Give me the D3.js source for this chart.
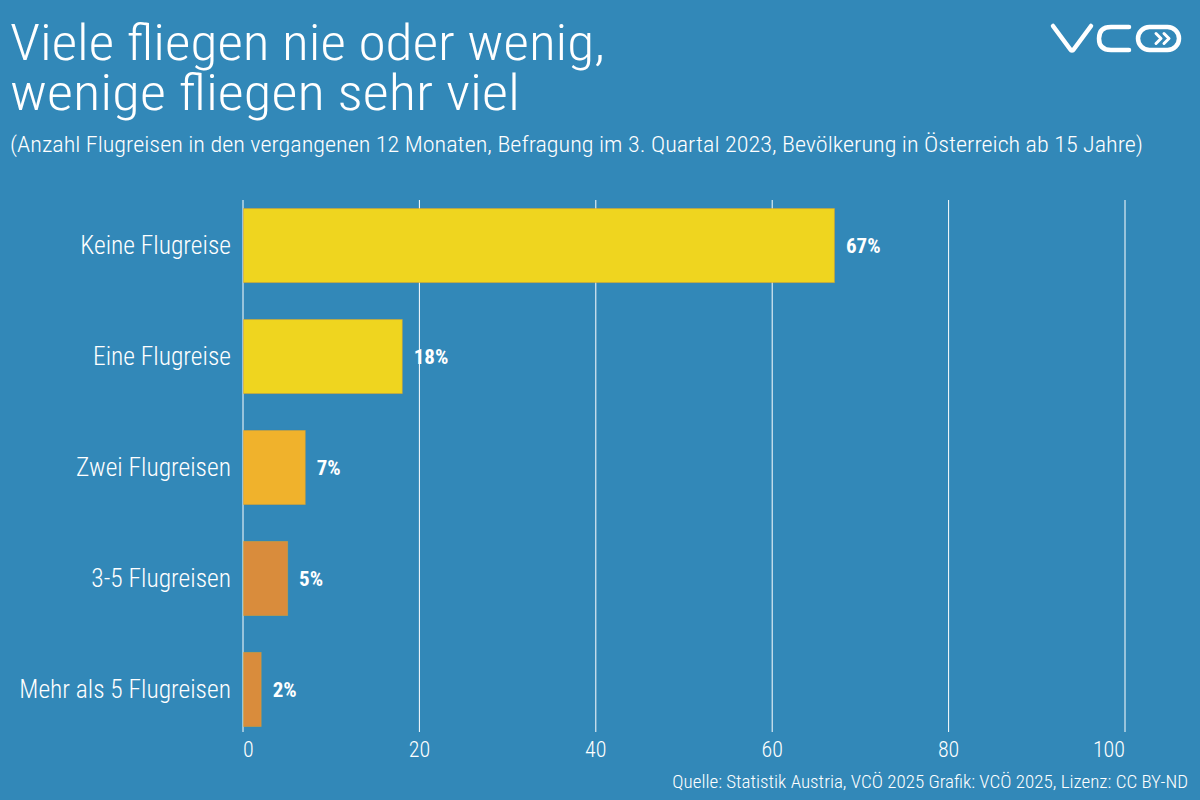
<!DOCTYPE html>
<html>
<head>
<meta charset="utf-8">
<script src="https://cdn.jsdelivr.net/npm/d3@7"></script>
<style>
  body { margin: 0; background: #3288b8; }
  svg text { font-family: "Roboto Condensed", "Liberation Sans Narrow", "DejaVu Sans Condensed", "Liberation Sans", sans-serif; fill: #fff; font-weight: 300; }
</style>
</head>
<body>
<div id="chart"></div>
<script>
// data
var categories = ['Keine Flugreise', 'Eine Flugreise', 'Zwei Flugreisen', '3-5 Flugreisen', 'Mehr als 5 Flugreisen'];
var values = [67, 18, 7, 5, 2];
var barColors = ['#efd51f', '#efd51f', '#f0b22c', '#d98c3c', '#d98c3c'];
var xTicks = [0, 20, 40, 60, 80, 100];

var width = 1200, height = 800;

var svg = d3.select('#chart')
  .append('svg')
    .attr('width', width)
    .attr('height', height);

svg.append('rect')
  .attr('width', width)
  .attr('height', height)
  .attr('fill', '#3288b8');

var x = d3.scaleLinear()
  .domain([0, 100])
  .range([243, 1125]);

var y = d3.scaleBand()
  .domain(categories)
  .range([200, 735])
  .paddingInner(0.333)
  .paddingOuter(0.077);

// grid lines
svg.append('g')
  .selectAll('line')
  .data(xTicks)
  .enter()
    .append('line')
      .attr('x1', function(d) { return x(d); })
      .attr('x2', function(d) { return x(d); })
      .attr('y1', 200)
      .attr('y2', 732)
      .attr('stroke', '#fff')
      .attr('stroke-width', 1);

// tick labels
svg.append('g')
  .selectAll('text')
  .data(xTicks)
  .enter()
    .append('text')
      .text(function(d) { return d; })
      .attr('x', function(d) { return x(d); })
      .attr('y', 757)
      .attr('font-size', 22)
      .attr('text-anchor', function(d, i) {
        return i === 0 ? 'start' : (i === xTicks.length - 1 ? 'end' : 'middle');
      });

var rows = categories.map(function(c, i) { return { cat: c, val: values[i], color: barColors[i] }; });

svg.append('g')
  .selectAll('rect')
  .data(rows)
  .enter()
    .append('rect')
      .attr('x', x(0) + 0.5)
      .attr('y', function(d) { return y(d.cat); })
      .attr('width', function(d) { return x(d.val) - x(0); })
      .attr('height', y.bandwidth())
      .attr('fill', function(d) { return d.color; })
      .attr('stroke', '#e3a32a')
      .attr('stroke-opacity', 0.5)
      .attr('stroke-width', 1);

// category labels
svg.append('g')
  .selectAll('text')
  .data(rows)
  .enter()
    .append('text')
      .text(function(d) { return d.cat; })
      .attr('x', 231)
      .attr('y', function(d) { return y(d.cat) + y.bandwidth() / 2; })
      .attr('dy', '0.35em')
      .attr('font-size', 25.5)
      .attr('text-anchor', 'end');

// value labels
svg.append('g')
  .selectAll('text')
  .data(rows)
  .enter()
    .append('text')
      .text(function(d) { return d.val + '%'; })
      .attr('x', function(d) { return x(d.val) + 12; })
      .attr('y', function(d) { return y(d.cat) + y.bandwidth() / 2; })
      .attr('dy', '0.35em')
      .attr('font-size', 21)
      .style('font-weight', 'bold');

// title (two lines in one text), subtitle, footer
var title = svg.append('text')
  .attr('font-size', 50);
title.append('tspan')
  .text('Viele fliegen nie oder wenig,')
  .attr('x', 10).attr('y', 60)
  .attr('textLength', 595)
  .attr('lengthAdjust', 'spacingAndGlyphs');
title.append('tspan')
  .text('wenige fliegen sehr viel')
  .attr('x', 10).attr('y', 110)
  .attr('textLength', 510)
  .attr('lengthAdjust', 'spacingAndGlyphs');

svg.append('text')
  .text('(Anzahl Flugreisen in den vergangenen 12 Monaten, Befragung im 3. Quartal 2023, Bevölkerung in Österreich ab 15 Jahre)')
  .attr('x', 10).attr('y', 152)
  .attr('font-size', 22)
  .attr('textLength', 1133)
  .attr('lengthAdjust', 'spacingAndGlyphs');
svg.append('text')
  .text('Quelle: Statistik Austria, VCÖ 2025 Grafik: VCÖ 2025, Lizenz: CC BY-ND')
  .attr('x', 1188).attr('y', 788)
  .attr('font-size', 19)
  .attr('text-anchor', 'end');

// logo
var logo = svg.append('g')
  .attr('fill', 'none')
  .attr('stroke', '#fff')
  .attr('stroke-width', 4.5)
  .attr('stroke-linecap', 'round')
  .attr('stroke-linejoin', 'round');
logo.append('path').attr('d', 'M1053,26 L1070,49 Q1072,52 1074,49 L1091,26');
logo.append('path').attr('d', 'M1129,27 L1111,27 Q1099,27 1099,38.5 Q1099,50 1111,50 L1129,50');
logo.append('rect').attr('x', 1138).attr('y', 27).attr('width', 41).attr('height', 23).attr('rx', 11.5);
logo.append('path').attr('d', 'M1156,33.5 L1161,38.5 L1156,43.5').attr('stroke-width', 3);
logo.append('path').attr('d', 'M1164,33.5 L1169,38.5 L1164,43.5').attr('stroke-width', 3);
</script>
</body>
</html>
